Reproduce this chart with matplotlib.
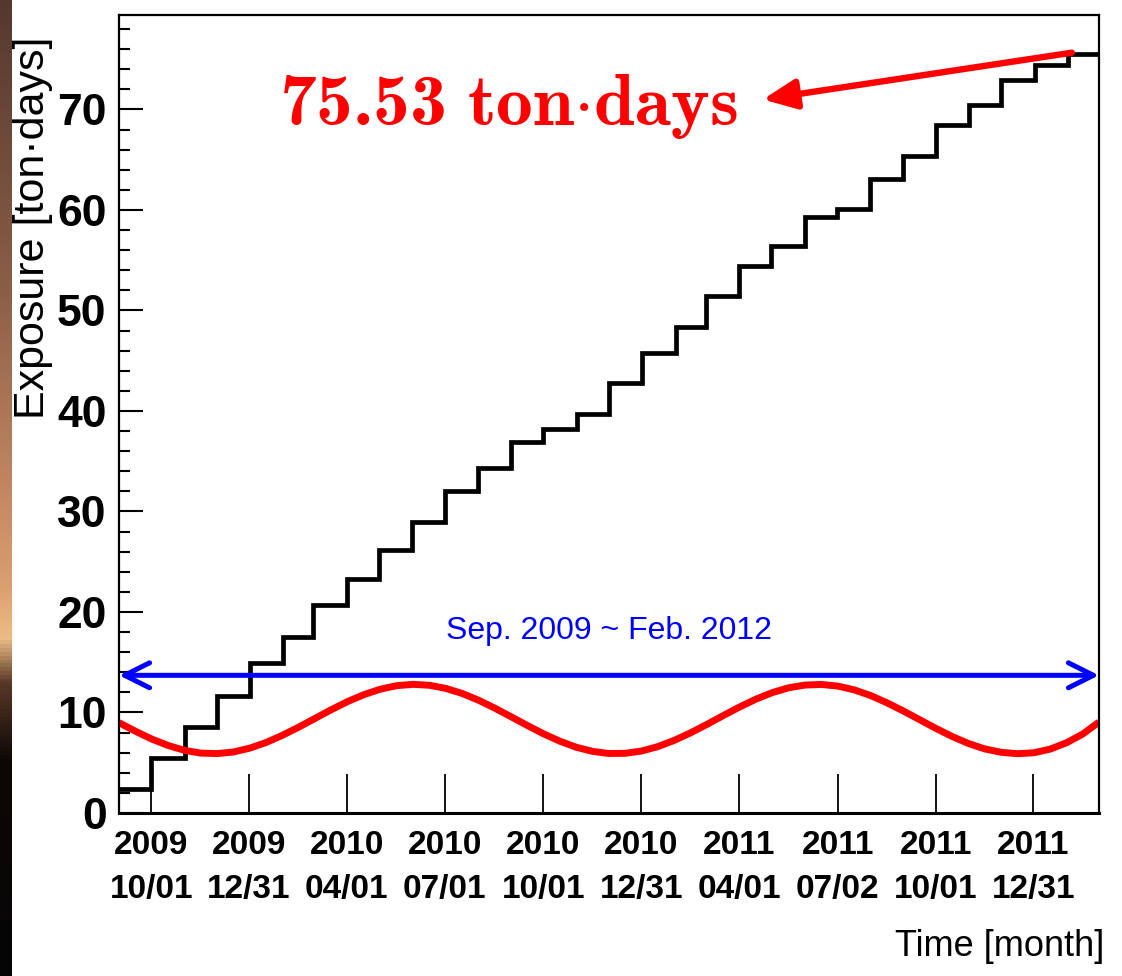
import numpy as np
import matplotlib
matplotlib.use("Agg")
import matplotlib.pyplot as plt
import matplotlib.dates as mdates
from matplotlib.colors import LinearSegmentedColormap
import datetime as dt

# ---------------- data ----------------
# monthly bin edges: Sep 2009 ... Mar 2012
bin_edges = [dt.date(2009 + (8 + i) // 12, (8 + i) % 12 + 1, 1) for i in range(31)]
exposure = [2.36, 5.44, 8.59, 11.67, 14.9, 17.5, 20.7, 23.25, 26.2, 29.0,
            32.0, 34.3, 36.9, 38.2, 39.7, 42.8, 45.8, 48.4, 51.4, 54.4,
            56.4, 59.3, 60.1, 63.05, 65.4, 68.5, 70.4, 72.9, 74.4, 75.53]

tick_dates = [dt.date(2009, 10, 1), dt.date(2009, 12, 31), dt.date(2010, 4, 1),
              dt.date(2010, 7, 1), dt.date(2010, 10, 1), dt.date(2010, 12, 31),
              dt.date(2011, 4, 1), dt.date(2011, 7, 2), dt.date(2011, 10, 1),
              dt.date(2011, 12, 31)]
tick_labels = ["2009\n10/01", "2009\n12/31", "2010\n04/01", "2010\n07/01",
               "2010\n10/01", "2010\n12/31", "2011\n04/01", "2011\n07/02",
               "2011\n10/01", "2011\n12/31"]

mod_month = [i * 0.5 for i in range(61)]
mod_value = [8.99, 8.14, 7.36, 6.72, 6.24, 5.96, 5.91, 6.07, 6.45, 7.01,
             7.73, 8.54, 9.41, 10.28, 11.09, 11.78, 12.32, 12.67, 12.80, 12.71,
             12.40, 11.90, 11.23, 10.44, 9.58, 8.71, 7.87, 7.14, 6.54, 6.13,
             5.92, 5.94, 6.17, 6.61, 7.23, 7.98, 8.82, 9.70, 10.55, 11.33,
             11.98, 12.46, 12.73, 12.79, 12.63, 12.26, 11.70, 10.98, 10.17, 9.30,
             8.43, 7.62, 6.92, 6.38, 6.04, 5.90, 5.99, 6.35, 6.98, 7.85, 9.05]

period_level = 13.7
total_text = r"$\mathrm{75.53\ ton{\cdot}days}$"
period_text = "Sep. 2009 ~ Feb. 2012"

# ---------------- figure ----------------
plt.rcParams['mathtext.fontset'] = 'custom'
plt.rcParams['mathtext.rm'] = 'cmb10'
plt.rcParams['mathtext.bf'] = 'cmb10'
plt.rcParams['mathtext.it'] = 'cmb10'
W, H = 1122, 976
fig = plt.figure(figsize=(W / 100, H / 100), dpi=100)

# decorative background strip on the left edge
bg = fig.add_axes([0, 0, 12 / W, 1])
cm = LinearSegmentedColormap.from_list("bg", [
    (0.0, (0.33, 0.22, 0.18)), (0.3, (0.55, 0.37, 0.28)), (0.5, (0.76, 0.53, 0.38)),
    (0.6, (0.86, 0.62, 0.44)), (0.655, (0.93, 0.74, 0.52)), (0.7, (0.35, 0.22, 0.15)),
    (0.78, (0.05, 0.03, 0.02)), (1.0, (0.02, 0.02, 0.02))])
bg.imshow(np.linspace(0, 1, 256).reshape(-1, 1), aspect='auto', cmap=cm)
bg.set_axis_off()

ax = fig.add_axes([119 / W, 1 - 813 / H, 980 / W, 798 / H])

edges_num = mdates.date2num(bin_edges)
ax.stairs(exposure, edges_num, color='black', lw=3.4, baseline=None)

x0, x1 = edges_num[0], edges_num[-1]
mod_x = [x0 + m * (x1 - x0) / 30.0 for m in mod_month]
ax.plot(mod_x, mod_value, color='#ff0000', lw=5.0, solid_capstyle='butt')

ax.set_xlim(x0, x1)
ax.set_ylim(0, 79.4)

# blue period arrow
ax.annotate('', xy=(1.0, period_level), xytext=(0.0, period_level),
            xycoords=('axes fraction', 'data'), textcoords=('axes fraction', 'data'),
            arrowprops=dict(arrowstyle='<->,head_length=0.9,head_width=0.45',
                            color='#0000ff', lw=3.6, shrinkA=0, shrinkB=0,
                            mutation_scale=20))
ax.text(0.5, 18.1, period_text, transform=ax.get_yaxis_transform(), ha='center',
        va='center', color='#0000ff', fontsize=23, family=['Liberation Sans', 'DejaVu Sans'])

# red total exposure arrow + text
arrow_start = x0 + 29.17 * (x1 - x0) / 30.0
arrow_tip = x0 + 19.71 * (x1 - x0) / 30.0
ax.annotate('', xy=(arrow_tip, 71.0), xytext=(arrow_start, 75.65),
            arrowprops=dict(arrowstyle='-|>,head_length=1.0,head_width=0.45',
                            color='#ff0000', lw=4.6, shrinkA=0, shrinkB=0,
                            mutation_scale=20))
ax.text(x0 + 4.9 * (x1 - x0) / 30.0, 68.5, total_text, color='#ff0000',
        fontsize=53, ha='left', va='baseline')

# axes styling
for s in ax.spines.values():
    s.set_linewidth(1.6)
ax.spines['bottom'].set_linewidth(2.2)

sans = ['Liberation Sans', 'DejaVu Sans']
ax.set_xticks(mdates.date2num(tick_dates))
ax.set_xticklabels(tick_labels, family=sans, fontweight='bold', fontsize=24,
                   linespacing=1.55)
ax.set_yticks(range(0, 80, 10))
ax.set_yticklabels([str(v) for v in range(0, 80, 10)], family=sans,
                   fontweight='bold', fontsize=32)
ax.set_yticks(np.arange(0, 80, 2), minor=True)
ax.tick_params(axis='x', direction='in', length=28, width=1.3, pad=12,
               top=False)
ax.tick_params(axis='y', which='major', direction='in', length=17, width=1.5,
               pad=9, right=False)
ax.tick_params(axis='y', which='minor', direction='in', length=8, width=1.5,
               right=False)
ax.tick_params(axis='x', which='minor', bottom=False)

fig.text(33 / W, 1 - 228 / H, "Exposure [ton\u00b7days]", rotation=90, ha='center',
         va='center', fontsize=31, family=sans)
fig.text(1104 / W, 1 - 946 / H, "Time [month]", ha='right', va='center',
         fontsize=26, family=sans)

fig.savefig("out.png", dpi=100)
